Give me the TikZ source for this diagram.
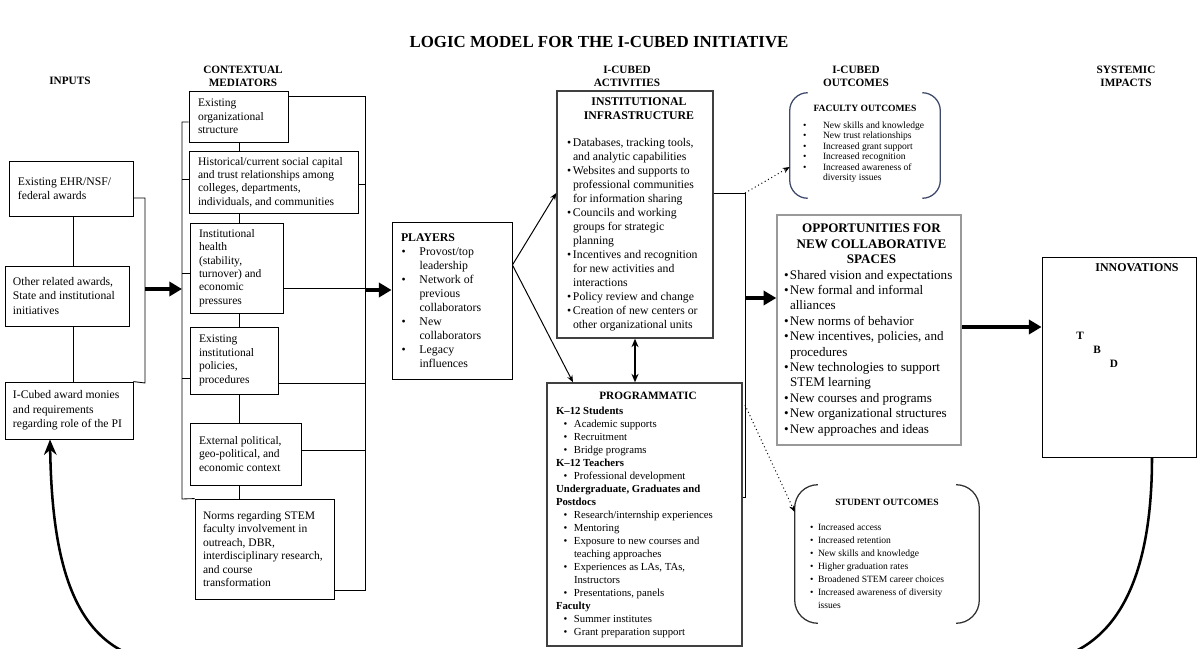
\documentclass[tikz,border=0pt]{standalone}
\usepackage{fontspec}
\setmainfont{Liberation Serif}
\usetikzlibrary{arrows.meta,calc}
\newlength\pxlen \setlength\pxlen{0.025cm}
\definecolor{facblue}{RGB}{62,72,104}
\definecolor{stugray}{RGB}{50,50,50}
% text block of a box: width, left padding, content
\newcommand{\bx}[3]{\hbox to #1\pxlen{\hspace*{#2\pxlen}\parbox{\dimexpr#1\pxlen-#2\pxlen-2\pxlen\relax}{\raggedright#3}\hss}}
% bullet item: bullet offset, text offset, text
\newcommand{\bitem}[3]{\par\noindent\hangindent=#2\pxlen\hangafter=1\makebox[#2\pxlen][l]{\hspace*{#1\pxlen}\textbullet}{\let\\\newline#3}}
\tikzset{
  box/.style 2 args={draw, line width=0.6pt, inner sep=0pt, minimum width=#1*0.025cm, minimum height=#2*0.025cm},
  frame/.style 2 args={inner sep=0pt, minimum width=#1*0.025cm, minimum height=#2*0.025cm},
  head/.style={font=\bfseries\fontsize{8}{9.2}\selectfont, align=center, inner sep=0pt},
  intext/.style={font=\fontsize{8.3}{10.3}\selectfont},
  medtext/.style={font=\fontsize{8.2}{9.53}\selectfont},
  pltext/.style={font=\fontsize{8.4}{9.96}\selectfont},
  insttext/.style={font=\fontsize{8.35}{9.96}\selectfont},
  progtext/.style={font=\fontsize{7.65}{9.25}\selectfont},
  opptext/.style={font=\fontsize{9.3}{10.95}\selectfont},
  link/.style={line width=0.6pt},
  fat/.style={line width=2.8pt, -{Triangle[length=9pt,width=10pt]}},
  thinarrow/.style={line width=0.7pt, -{Stealth[length=5pt,width=4pt]}},
  dbl/.style={line width=1.3pt, {Stealth[length=6pt,width=5pt]}-{Stealth[length=6pt,width=5pt]}},
  dotarrow/.style={line width=0.7pt, dotted, -{Stealth[length=5pt,width=4pt]}},
  feedback/.style={line width=1.8pt, -{Stealth[length=11pt,width=9pt]}},
}
\begin{document}
\begin{tikzpicture}[x=0.025cm, y=-0.025cm]
\useasboundingbox (0,0) rectangle (1198,649);
\fill[white] (0,0) rectangle (1198,649);
\clip (0,0) rectangle (1198,649);

% title and column heads
\node[font=\bfseries\fontsize{12}{14}\selectfont] (title) at (599,42) {LOGIC MODEL FOR THE I-CUBED INITIATIVE};
\node[head] (hin) at (70,81) {INPUTS};
\node[head] (hmed) at (243,76.5) {CONTEXTUAL\\ MEDIATORS};
\node[head] (hact) at (627,76.5) {I-CUBED\\ ACTIVITIES};
\node[head] (hout) at (856,76.5) {I-CUBED\\ OUTCOMES};
\node[head] (himp) at (1126,76.5) {SYSTEMIC\\ IMPACTS};

% inputs
\node[box={124}{55}, intext] (in1) at (71,188.5) {\bx{124}{9}{Existing EHR/NSF/\\ federal awards}};
\node[box={124}{60}, intext] (in2) at (67,296) {\bx{124}{8}{Other related awards,\\ State and institutional\\ initiatives}};
\node[box={128}{57}, intext] (in3) at (69,410.5) {\bx{128}{8}{I-Cubed award monies\\ and requirements\\ regarding role of the PI}};
\foreach \a/\b in {in1/in2,in2/in3}
  \draw[link] (\a.south -| 73,0) -- (\b.north -| 73,0);
\draw[link] (in1.east |- 0,198) -- (145,198) -- (145,383) -- (in3.north east);
\coordinate (inbr) at (145,289);
\coordinate (medl) at (182,289);
\draw[fat] (inbr) -- (medl);

% contextual mediators
\node[box={99}{51}, medtext] (m1) at (238.5,116.5) {\bx{99}{9}{Existing\\ organizational\\ structure}};
\node[box={169}{62}, medtext] (m2) at (273.5,182) {\bx{169}{9}{Historical/current social capital\\ and trust relationships among\\ colleges, departments,\\ individuals, and communities}};
\node[box={93}{90}, medtext] (m3) at (236.5,268) {\bx{93}{9}{Institutional\\ health\\ (stability,\\ turnover) and\\ economic\\ pressures}};
\node[box={88}{67}, medtext] (m4) at (234,360.5) {\bx{88}{9}{Existing\\ institutional\\ policies,\\ procedures}};
\node[box={111}{62}, medtext] (m5) at (245.5,454) {\bx{111}{9}{External political,\\ geo-political, and\\ economic context}};
\node[box={139}{100}, medtext] (m6) at (264.5,549) {\bx{139}{8}{Norms regarding STEM\\ faculty involvement in\\ outreach, DBR,\\ interdisciplinary research,\\ and course\\ transformation}};
\foreach \a/\b in {m1/m2,m2/m3,m3/m4,m4/m5,m5/m6}
  \draw[link] (\a.south -| 239,0) -- (\b.north -| 239,0);
\draw[link] (m1.west |- 0,122) -- (182,122) -- (182,499) -- (m6.north west);
\foreach \n/\y in {m2/179,m3/273,m4/378}
  \draw[link] (182,\y) -- (\n.west |- 0,\y);
\draw[link] (m1.east |- 0,96) -- (365,96) -- (365,590) -- (m6.east |- 0,590);
\foreach \n/\y in {m2/184,m3/288,m4/383,m5/450}
  \draw[link] (\n.east |- 0,\y) -- (365,\y);
\coordinate (medr) at (365,290);

% players
\node[box={120}{157}, pltext] (players) at (452,300.5) {\bx{120}{9}{\textbf{PLAYERS}
  \bitem{0.5}{18.5}{Provost/top\\ leadership}
  \bitem{0.5}{18.5}{Network of\\ previous\\ collaborators}
  \bitem{0.5}{18.5}{New\\ collaborators}
  \bitem{0.5}{18.5}{Legacy\\ influences}}};
\draw[fat] (medr) -- (players.west |- medr);

% activities
\node[box={156}{247}, draw=black!75, line width=1pt, insttext] (inst) at (635,214.5) {\bx{156}{10}{{\centering\bfseries\fontsize{8.4}{9.5}\selectfont INSTITUTIONAL\\ INFRASTRUCTURE\par}\vspace{13\pxlen}
  \bitem{0}{6}{Databases, tracking tools,\\ and analytic capabilities}
  \bitem{0}{6}{Websites and supports to\\ professional communities\\ for information sharing}
  \bitem{0}{6}{Councils and working\\ groups for strategic\\ planning}
  \bitem{0}{6}{Incentives and recognition\\ for new activities and\\ interactions}
  \bitem{0}{6}{Policy review and change}
  \bitem{0}{6}{Creation of new centers or\\ other organizational units}}};
\node[box={195}{263}, draw=black!75, line width=1pt, progtext] (prog) at (644.5,514.5) {\bx{195}{9}{{\centering\bfseries\fontsize{8}{9.2}\selectfont PROGRAMMATIC\par}\vspace{2\pxlen}
  \noindent\textbf{K–12 Students}
  \bitem{7.5}{18}{Academic supports}
  \bitem{7.5}{18}{Recruitment}
  \bitem{7.5}{18}{Bridge programs}
  \par\noindent\textbf{K–12 Teachers}
  \bitem{7.5}{18}{Professional development}
  \par\noindent\textbf{Undergraduate, Graduates and\newline Postdocs}
  \bitem{7.5}{18}{Research/internship experiences}
  \bitem{7.5}{18}{Mentoring}
  \bitem{7.5}{18}{Exposure to new courses and\\ teaching approaches}
  \bitem{7.5}{18}{Experiences as LAs, TAs,\\ Instructors}
  \bitem{7.5}{18}{Presentations, panels}
  \par\noindent\textbf{Faculty}
  \bitem{7.5}{18}{Summer institutes}
  \bitem{7.5}{18}{Grant preparation support}}};
\coordinate (pl) at (players.east |- 0,265);
\draw[thinarrow] (pl) -- (inst.west |- 0,193);
\draw[thinarrow] (pl) -- (prog.north -| 573,0);
\draw[dbl] (inst.south) -- (inst.south |- prog.north);
\draw[link] (inst.east |- 0,193) -- (745,193) -- (745,497) -- (prog.east |- 0,497);

% outcomes
\node[frame={150}{105}] (fac) at (865,145.5) {};
\draw[facblue, line width=0.9pt, rounded corners=12.8pt] ($(fac.north west)+(18,0)$) -- (fac.north west) -- (fac.south west) -- ($(fac.south west)+(18,0)$);
\draw[facblue, line width=0.9pt, rounded corners=12.8pt] ($(fac.north east)+(-18,0)$) -- (fac.north east) -- (fac.south east) -- ($(fac.south east)+(-18,0)$);
\node[inner sep=0pt, font=\fontsize{6.8}{7.5}\selectfont] (factxt) at (865,144) {\parbox{124\pxlen}{\raggedright
  \makebox[124\pxlen]{\bfseries FACULTY OUTCOMES}\par\vspace{6\pxlen}
  \bitem{0}{20}{New skills and knowledge}
  \bitem{0}{20}{New trust relationships}
  \bitem{0}{20}{Increased grant support}
  \bitem{0}{20}{Increased recognition}
  \bitem{0}{20}{Increased awareness of\\ diversity issues}}};

\node[box={184}{230}, draw=black!40, line width=1pt, opptext] (opp) at (869,330) {\bx{184}{7}{{\centering\bfseries OPPORTUNITIES FOR\\ NEW COLLABORATIVE\\ SPACES\par}
  \bitem{0}{6}{Shared vision and expectations}
  \bitem{0}{6}{New formal and informal\\ alliances}
  \bitem{0}{6}{New norms of behavior}
  \bitem{0}{6}{New incentives, policies, and\\ procedures}
  \bitem{0}{6}{New technologies to support\\ STEM learning}
  \bitem{0}{6}{New courses and programs}
  \bitem{0}{6}{New organizational structures}
  \bitem{0}{6}{New approaches and ideas}}};

\node[frame={184}{138}, font=\fontsize{6.8}{9.25}\selectfont] (stu) at (887,554) {\bx{184}{15}{\noindent\makebox[154\pxlen]{\bfseries STUDENT OUTCOMES}\par\vspace{12\pxlen}
  \bitem{0}{8}{Increased access}
  \bitem{0}{8}{Increased retention}
  \bitem{0}{8}{New skills and knowledge}
  \bitem{0}{8}{Higher graduation rates}
  \bitem{0}{8}{Broadened STEM career choices}
  \bitem{0}{8}{Increased awareness of diversity\\ issues}}};
\draw[stugray, line width=0.9pt, rounded corners=16.4pt] ($(stu.north west)+(23,0)$) -- (stu.north west) -- (stu.south west) -- ($(stu.south west)+(23,0)$);
\draw[stugray, line width=0.9pt, rounded corners=16.4pt] ($(stu.north east)+(-23,0)$) -- (stu.north east) -- (stu.south east) -- ($(stu.south east)+(-23,0)$);

\draw[fat] (745,298) -- (opp.west |- 0,298);
\draw[dotarrow] (745,193) -- (fac.west |- 0,167);
\draw[dotarrow] (745,405) -- (stu.west |- 0,512);

% systemic impacts
\node[box={154}{200}] (innov) at (1119,357) {};
\node[font=\bfseries\fontsize{8.5}{10}\selectfont] (innovtitle) at (1137,268) {INNOVATIONS};
\node[font=\bfseries\fontsize{8}{9}\selectfont] (tbdT) at (1080,336) {T};
\node[font=\bfseries\fontsize{8}{9}\selectfont] (tbdB) at (1097,350) {B};
\node[font=\bfseries\fontsize{8}{9}\selectfont] (tbdD) at (1114,364) {D};
\draw[fat] (opp.east |- 0,327) -- (innov.west |- 0,327);

% feedback loop back to the inputs
\draw[feedback] ($(innov.south)+(33,0)$) .. controls (1152,590) and (1110,652) .. (1040,662)
  -- (160,662) .. controls (72,652) and (52,560) .. (in3.south -| 50,0);
\end{tikzpicture}
\end{document}
